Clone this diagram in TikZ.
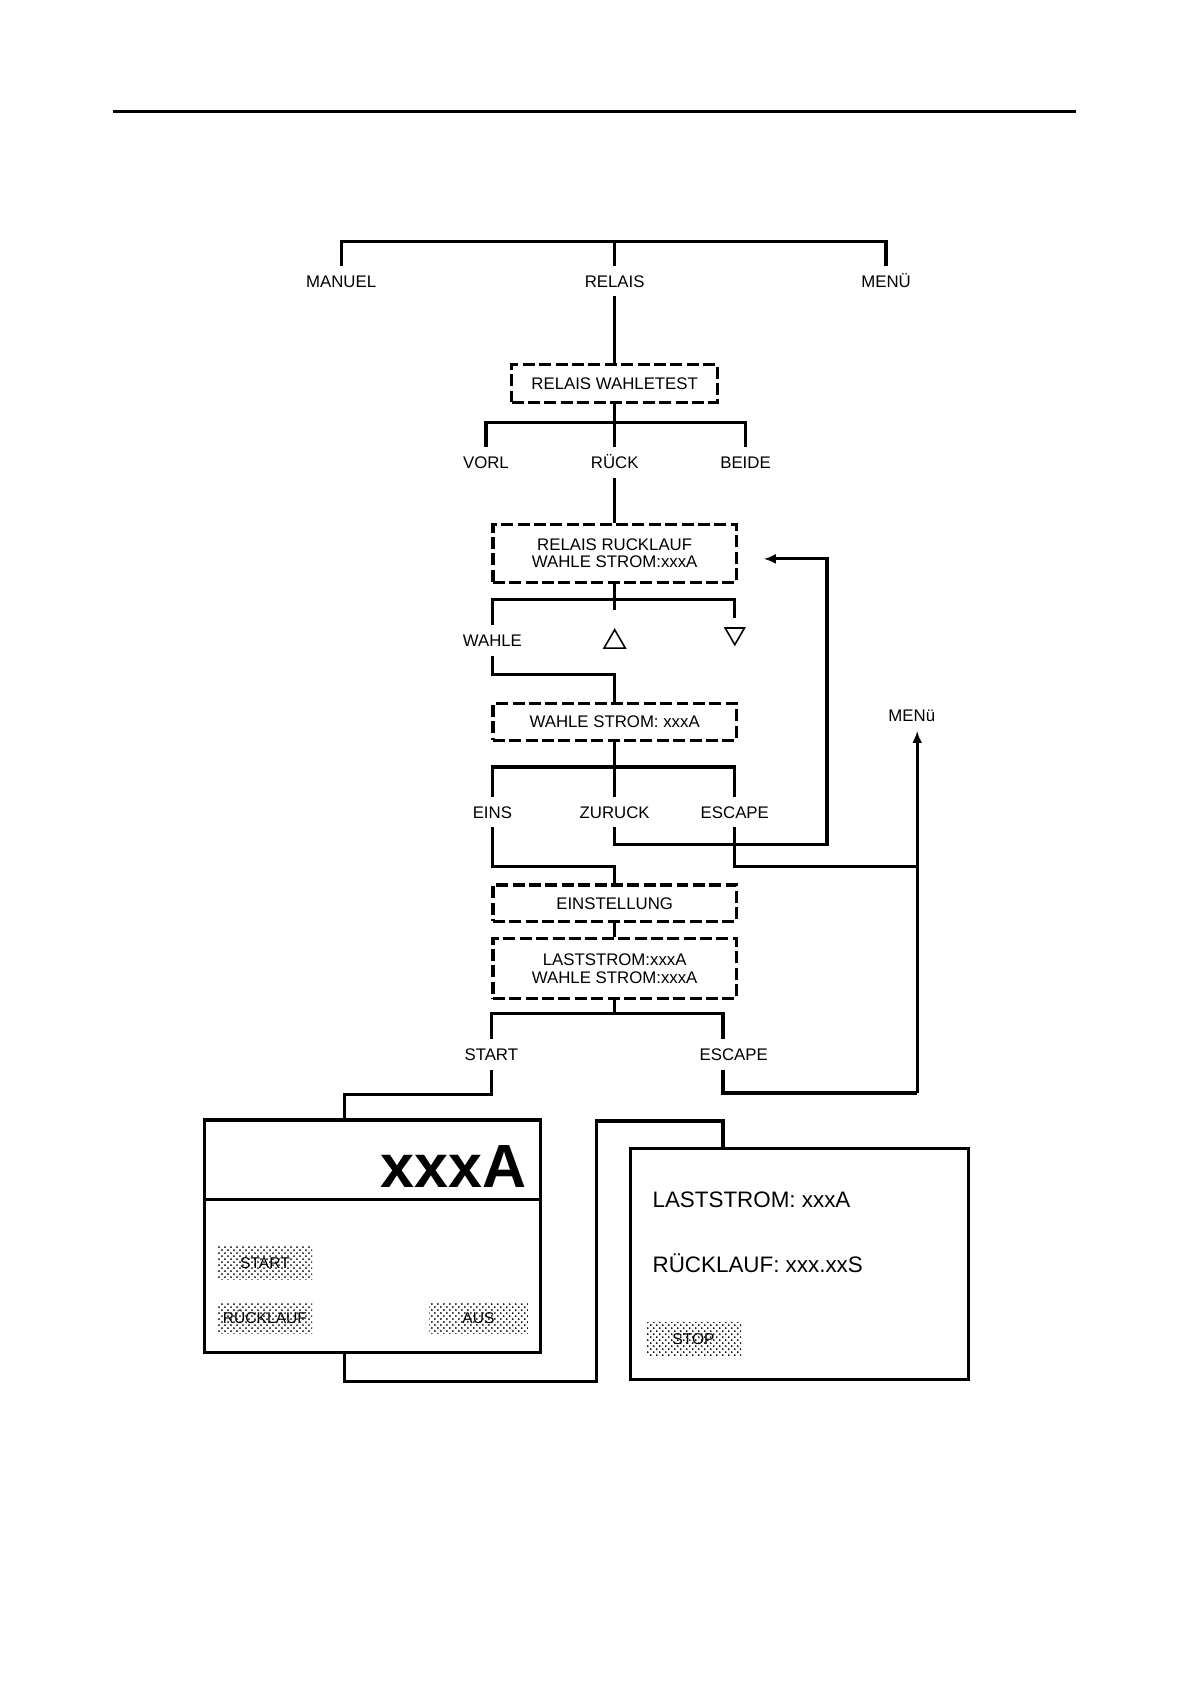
\documentclass[tikz,border=0pt]{standalone}
\usepackage{fontspec}
\setmainfont{Liberation Sans}
\usetikzlibrary{arrows.meta,shapes.geometric,patterns}
\def\uu{0.53652pt}
\begin{document}
\begin{tikzpicture}[x=0.53652pt,y=-0.53652pt,
  every node/.style={font=\fontsize{8.4}{8.6}\selectfont},
  conn/.style={line width=1.6pt},
  lbl/.style={inner xsep=1pt, inner ysep=4.5pt, text height=6pt, text depth=0pt},
  dbox/.style={draw, line width=1.6pt, dash pattern=on 6pt off 2.2pt, align=center, inner sep=0pt, minimum width=227*\uu},
  sbox/.style={draw, line width=1.6pt, inner sep=0pt},
  btn/.style={pattern=crosshatch dots, pattern color=black, inner sep=0pt, font=\fontsize{7.8}{8}\selectfont, text height=5.6pt, text depth=0pt},
  tri/.style={draw, line width=0.8pt, regular polygon, regular polygon sides=3, inner sep=0pt, outer sep=5pt},
  arr/.style={conn, -{Latex[length=6pt,width=5pt]}},
  txt/.style={anchor=west, inner sep=0pt, font=\fontsize{11.2}{12}\selectfont}
]
\useasboundingbox (0,0) rectangle (1109,1568);
\coordinate (rl) at (105,104);
\coordinate (rr) at (1003,104);
\draw[line width=1.1pt] (rl) -- (rr);

% labels and boxes
\node[lbl] (manuel) at (318,262) {MANUEL};
\node[lbl] (relais) at (573,262) {RELAIS};
\node[lbl] (menu1) at (826,262) {MENÜ};
\node[dbox, minimum width=192*\uu, minimum height=35*\uu] (b1) at (573,357.5) {RELAIS WAHLETEST};
\node[lbl] (vorl) at (453,431) {VORL};
\node[lbl] (ruck) at (573,431) {RÜCK};
\node[lbl] (beide) at (695,431) {BEIDE};
\node[dbox, minimum height=54*\uu] (b2) at (573,516) {RELAIS RUCKLAUF\\WAHLE STROM:xxxA};
\node[lbl] (wahle) at (459,597) {WAHLE};
\node[tri, minimum size=23*\uu] (tri1) at (573,598.5) {};
\node[tri, minimum size=20.8*\uu, shape border rotate=180] (tri2) at (685,590.6) {};
\node[dbox, minimum height=34*\uu] (b3) at (573,673) {WAHLE STROM: xxxA};
\node[lbl] (eins) at (459,757) {EINS};
\node[lbl] (zur) at (573,757) {ZURUCK};
\node[lbl] (esc1) at (685,757) {ESCAPE};
\node[lbl] (menu2) at (850,667) {MENü};
\node[dbox, minimum height=34*\uu] (b4) at (573,842) {EINSTELLUNG};
\node[dbox, minimum height=56*\uu] (b5) at (573,903) {LASTSTROM:xxxA\\WAHLE STROM:xxxA};
\node[lbl] (start) at (458,983) {START};
\node[lbl] (esc2) at (684,983) {ESCAPE};

% display screens
\node[sbox, minimum width=313*\uu, minimum height=217*\uu] (b6) at (347.5,1152.5) {};
\draw[line width=1.6pt] ([yshift=-40.8pt]b6.north west) -- ([yshift=-40.8pt]b6.north east);
\node[anchor=base east, inner sep=0pt, font=\fontsize{30.5}{32}\selectfont\bfseries] (bigval) at (491,1107) {xxxA};
\node[btn, minimum width=88*\uu, minimum height=31*\uu] (bstart) at (247,1177.5) {START};
\node[btn, minimum width=88*\uu, minimum height=29*\uu] (bruck) at (247,1228.5) {RÜCKLAUF};
\node[btn, minimum width=92*\uu, minimum height=29*\uu] (baus) at (446,1228.5) {AUS};

\node[sbox, minimum width=315*\uu, minimum height=215*\uu] (b7) at (745.5,1178.5) {};
\node[txt] (last) at (608,1118) {LASTSTROM: xxxA};
\node[txt] (ruckl) at (608,1178) {RÜCKLAUF: xxx.xxS};
\node[btn, minimum width=89*\uu, minimum height=31*\uu] (bstop) at (646.5,1248.5) {STOP};

% connectors
\coordinate (br1) at (573,225);
\draw[conn] (manuel.north) |- (br1) -| (menu1.north);
\draw[conn] (relais.north) -- (br1);
\draw[conn] (relais.south) -- (b1.north);
\coordinate (br2) at (573,394);
\draw[conn] (b1.south) -- (br2);
\draw[conn] (vorl.north) |- (br2) -| (beide.north);
\draw[conn] (ruck.north) -- (br2);
\draw[conn] (ruck.south) -- (b2.north);
\coordinate (br3) at (573,559);
\draw[conn] (b2.south) -- (br3);
\draw[conn] (wahle.north) |- (br3) -| (tri2.north);
\draw[conn] (br3) -- (tri1.north);
\coordinate (wj) at (573,629);
\draw[conn] (wahle.south) |- (wj) -- (b3.north);
\coordinate (br4) at (573,715);
\draw[conn] (b3.south) -- (br4);
\draw[conn] (eins.north) |- (br4) -| (esc1.north);
\draw[conn] (zur.north) -- (br4);
\coordinate (ej) at (573,808);
\draw[conn] (eins.south) |- (ej) -- (b4.north);
\coordinate (zj) at (771,787);
\coordinate (arr2) at (712,521);
\draw[arr] (zur.south) |- (zj) |- (arr2);
\coordinate (mj1) at (855,808);
\coordinate (mj2) at (855,1019);
\draw[conn] (esc1.south) |- (mj1);
\draw[arr] (mj2) -- (mj2 |- menu2.south);
\draw[conn] (b4.south) -- (b5.north);
\coordinate (br5) at (573,945);
\draw[conn] (b5.south) -- (br5);
\coordinate (sj) at (321,1020);
\coordinate (lp1) at (556,1288);
\coordinate (lp2) at (674,1045);
\draw[conn] (start.north) |- (br5) -| (lp2 |- esc2.north);
\draw[conn] (lp2 |- esc2.south) |- (mj2);
\draw[conn] (start.south) |- (sj) -- (sj |- b6.north);
\draw[conn] (sj |- b6.south) |- (lp1) |- (lp2) -- (lp2 |- b7.north);
\end{tikzpicture}
\end{document}
